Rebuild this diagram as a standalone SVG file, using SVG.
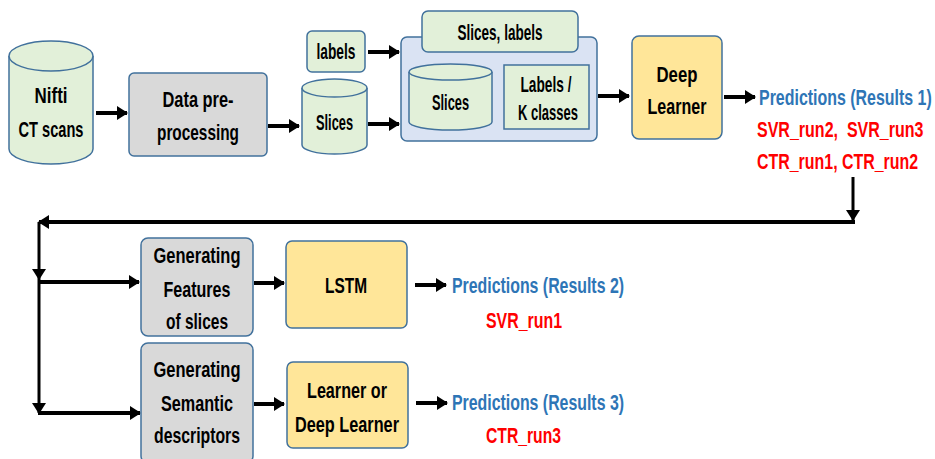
<svg xmlns="http://www.w3.org/2000/svg" width="935" height="459" viewBox="0 0 935 459">
  <style>
    text { font-family: "Liberation Sans", Arial, sans-serif; font-weight: bold; font-size: 22px; text-anchor: middle; }
    .dark { fill: #000000; }
    .blue { fill: #2e75b6; text-anchor: start; }
    .red { fill: #ff0000; }
    .left { text-anchor: start; }
    .store { fill: #e2f0d9; stroke: #41719c; stroke-width: 1.5; }
    .grey { fill: #d9d9d9; stroke: #41719c; stroke-width: 1.5; }
    .gold { fill: #ffe699; stroke: #41719c; stroke-width: 1.5; }
    .pane { fill: #dae3f3; stroke: #41719c; stroke-width: 1.5; }
    .flow { fill: none; stroke: #000000; stroke-width: 4; }
    .rail { fill: none; stroke: #000000; stroke-width: 3; }
  </style>
  <defs>
    <marker id="head" markerUnits="userSpaceOnUse" markerWidth="11" markerHeight="14" refX="10" refY="7" orient="auto">
      <path d="M0,0 L11,7 L0,14 z" fill="#000000"/>
    </marker>
  </defs>

  <!-- connectors -->
  <g id="connectors">
    <line class="flow" x1="96" y1="113" x2="127" y2="113" marker-end="url(#head)"/>
    <line class="flow" x1="268" y1="126" x2="299" y2="126" marker-end="url(#head)"/>
    <line class="flow" x1="368" y1="52" x2="399" y2="52" marker-end="url(#head)"/>
    <line class="flow" x1="368" y1="124" x2="399" y2="124" marker-end="url(#head)"/>
    <line class="flow" x1="598" y1="96" x2="629" y2="96" marker-end="url(#head)"/>
    <line class="flow" x1="724" y1="97" x2="755" y2="97" marker-end="url(#head)"/>
    <line class="rail" x1="853" y1="177" x2="853" y2="220" marker-end="url(#head)"/>
    <line class="flow" x1="855" y1="222" x2="39" y2="222" marker-end="url(#head)"/>
    <line class="rail" x1="39" y1="222" x2="39" y2="279" marker-end="url(#head)"/>
    <line class="rail" x1="39" y1="279" x2="39" y2="413" marker-end="url(#head)"/>
    <line class="flow" x1="38" y1="282" x2="139" y2="282" marker-end="url(#head)"/>
    <line class="flow" x1="38" y1="413" x2="140" y2="413" marker-end="url(#head)"/>
    <line class="flow" x1="254" y1="283" x2="284" y2="283" marker-end="url(#head)"/>
    <line class="flow" x1="254" y1="404" x2="284" y2="404" marker-end="url(#head)"/>
    <line class="flow" x1="415" y1="285" x2="446" y2="285" marker-end="url(#head)"/>
    <line class="flow" x1="416" y1="403" x2="447" y2="403" marker-end="url(#head)"/>
  </g>

  <!-- Nifti CT scans store -->
  <g id="nifti">
    <path class="store" d="M9,56 L9,149 A42,15 0 0 0 93,149 L93,56"/>
    <ellipse class="store" cx="51" cy="56" rx="42" ry="15"/>
    <text class="dark" x="51" y="103" textLength="33" lengthAdjust="spacingAndGlyphs">Nifti</text>
    <text class="dark" x="51" y="137" textLength="65" lengthAdjust="spacingAndGlyphs">CT scans</text>
  </g>

  <g id="preprocessing">
    <rect class="grey" x="129" y="73" width="138" height="83" rx="5"/>
    <text class="dark" x="198" y="107" textLength="71" lengthAdjust="spacingAndGlyphs">Data pre-</text>
    <text class="dark" x="198" y="140" textLength="82" lengthAdjust="spacingAndGlyphs">processing</text>
  </g>

  <g id="labels">
    <rect class="store" x="307" y="31" width="58" height="41" rx="5"/>
    <text class="dark" x="336" y="59" textLength="39" lengthAdjust="spacingAndGlyphs">labels</text>
  </g>

  <g id="slices">
    <path class="store" d="M302,88 L302,145 A32.5,9 0 0 0 367,145 L367,88"/>
    <ellipse class="store" cx="334.5" cy="88" rx="32.5" ry="9"/>
    <text class="dark" x="334.5" y="130" textLength="37" lengthAdjust="spacingAndGlyphs">Slices</text>
  </g>

  <!-- combined dataset: slices with their labels -->
  <g id="dataset">
    <rect class="pane" x="401" y="37" width="196" height="104" rx="6"/>
    <rect class="store" x="422" y="11" width="156" height="41" rx="6"/>
    <text class="dark" x="500" y="40" textLength="85" lengthAdjust="spacingAndGlyphs">Slices, labels</text>
    <path class="store" d="M409,72 L409,122 A41.5,8 0 0 0 492,122 L492,72"/>
    <ellipse class="store" cx="450.5" cy="72" rx="41.5" ry="8"/>
    <text class="dark" x="450.5" y="110" textLength="37" lengthAdjust="spacingAndGlyphs">Slices</text>
    <rect class="store" x="504" y="65" width="85" height="64"/>
    <text class="dark" x="546" y="92" textLength="51" lengthAdjust="spacingAndGlyphs">Labels /</text>
    <text class="dark" x="548" y="120" textLength="60" lengthAdjust="spacingAndGlyphs">K classes</text>
  </g>

  <g id="deep-learner">
    <rect class="gold" x="632" y="36" width="90" height="103" rx="7"/>
    <text class="dark" x="677" y="82" textLength="41" lengthAdjust="spacingAndGlyphs">Deep</text>
    <text class="dark" x="677" y="114" textLength="59" lengthAdjust="spacingAndGlyphs">Learner</text>
  </g>

  <!-- narrowed horizontally so the lines end at the right margin -->
  <g id="results-1">
    <text class="blue" transform="translate(759,105) scale(0.72,1)" x="0" y="0" textLength="240" lengthAdjust="spacingAndGlyphs">Predictions (Results 1)</text>
    <text class="red left" transform="translate(757,137) scale(0.76,1)" x="0" y="0" textLength="219" lengthAdjust="spacingAndGlyphs" xml:space="preserve">SVR_run2,  SVR_run3</text>
    <text class="red left" transform="translate(757,169) scale(0.76,1)" x="0" y="0" textLength="212" lengthAdjust="spacingAndGlyphs">CTR_run1, CTR_run2</text>
  </g>

  <g id="slice-features">
    <rect class="grey" x="141" y="238" width="112" height="98" rx="7"/>
    <text class="dark" x="197" y="263" textLength="87" lengthAdjust="spacingAndGlyphs">Generating</text>
    <text class="dark" x="197" y="297" textLength="67" lengthAdjust="spacingAndGlyphs">Features</text>
    <text class="dark" x="197" y="329" textLength="62" lengthAdjust="spacingAndGlyphs">of slices</text>
  </g>

  <g id="semantic-descriptors">
    <rect class="grey" x="141" y="343" width="112" height="120" rx="7"/>
    <text class="dark" x="197" y="377" textLength="87" lengthAdjust="spacingAndGlyphs">Generating</text>
    <text class="dark" x="197" y="411" textLength="72" lengthAdjust="spacingAndGlyphs">Semantic</text>
    <text class="dark" x="197" y="443" textLength="86" lengthAdjust="spacingAndGlyphs">descriptors</text>
  </g>

  <g id="lstm">
    <rect class="gold" x="286" y="241" width="121" height="87" rx="6"/>
    <text class="dark" x="346" y="293" textLength="42" lengthAdjust="spacingAndGlyphs">LSTM</text>
  </g>

  <g id="learner">
    <rect class="gold" x="287" y="362" width="121" height="86" rx="6"/>
    <text class="dark" x="347" y="398" textLength="80" lengthAdjust="spacingAndGlyphs">Learner or</text>
    <text class="dark" x="347" y="432" textLength="104" lengthAdjust="spacingAndGlyphs">Deep Learner</text>
  </g>

  <g id="results-2">
    <text class="blue" x="452" y="293" textLength="172" lengthAdjust="spacingAndGlyphs">Predictions (Results 2)</text>
    <text class="red" x="524" y="328" textLength="76" lengthAdjust="spacingAndGlyphs">SVR_run1</text>
  </g>

  <g id="results-3">
    <text class="blue" x="452" y="410" textLength="172" lengthAdjust="spacingAndGlyphs">Predictions (Results 3)</text>
    <text class="red" x="523.5" y="443" textLength="75" lengthAdjust="spacingAndGlyphs">CTR_run3</text>
  </g>
</svg>
